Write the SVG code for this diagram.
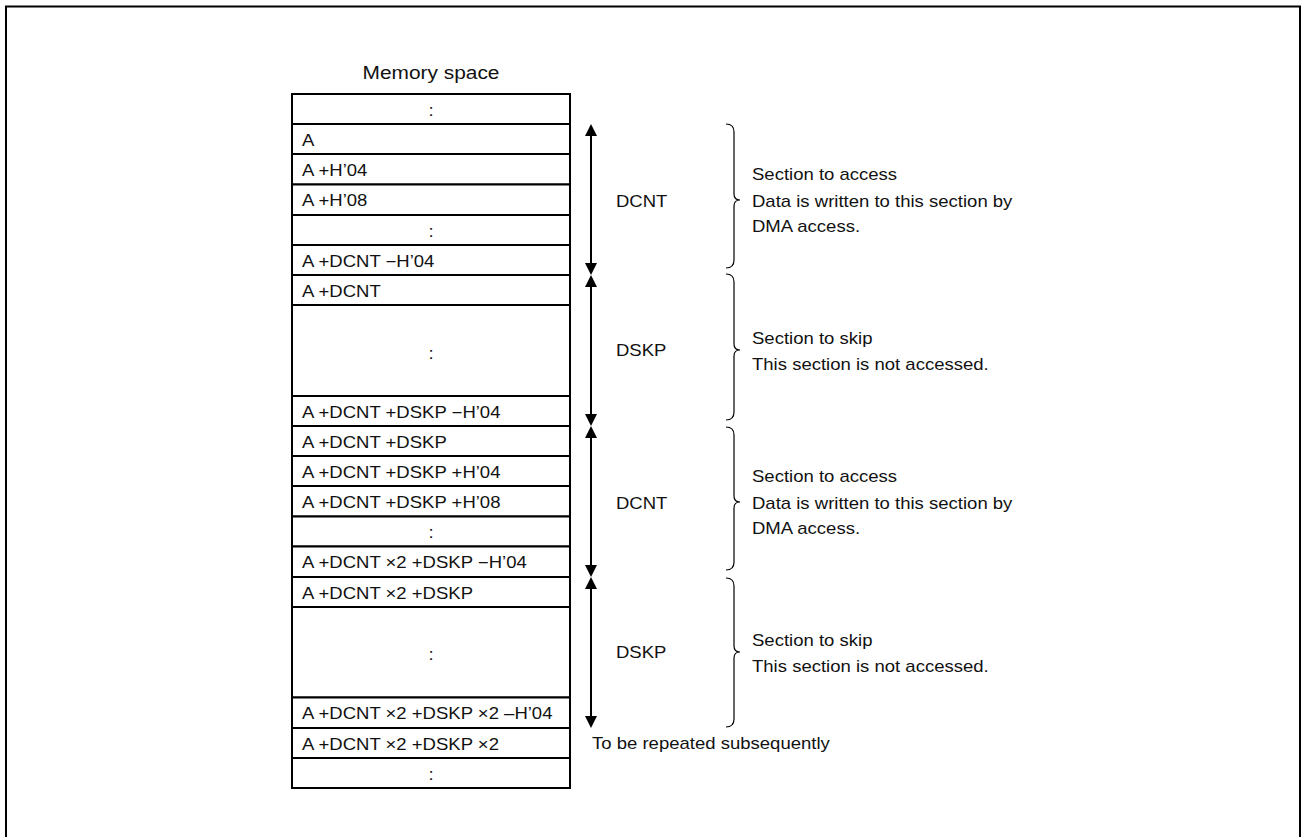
<svg xmlns="http://www.w3.org/2000/svg" width="1301" height="837" viewBox="0 0 1301 837">
<style>
.frame{fill:none;stroke:#000;stroke-width:2}
.cell{fill:#fff;stroke:#000;stroke-width:2}
.t{font-family:"Liberation Sans",Arial,Helvetica,sans-serif;font-size:16.4px;fill:#111}
.title{font-family:"Liberation Sans",Arial,Helvetica,sans-serif;font-size:18.5px;fill:#111}
.m{text-anchor:middle}
.arr{stroke:#000;stroke-width:2;fill:none;marker-start:url(#ah);marker-end:url(#ah)}
.brace{fill:none;stroke:#000;stroke-width:1.2}
</style>
<defs>
<marker id="ah" viewBox="0 0 12 12" markerWidth="12" markerHeight="12" markerUnits="userSpaceOnUse" refX="2" refY="6" orient="auto-start-reverse">
<path d="M0,0 L12,6 L0,12 z" fill="#000"/>
</marker>
</defs>
<rect width="1301" height="837" fill="#fff"/>
<rect class="frame" x="6" y="6.5" width="1294" height="860"/>

<text class="title m" transform="translate(431,79) scale(1.13,1)">Memory space</text>

<g id="memory-table">
<g id="row-0"><rect class="cell" x="292" y="94" width="278" height="30"/><text class="t m" transform="translate(431,115.5) scale(1.13,1)">:</text></g>
<g id="row-1"><rect class="cell" x="292" y="124" width="278" height="30"/><text class="t" transform="translate(302,145.5) scale(1.13,1)">A</text></g>
<g id="row-2"><rect class="cell" x="292" y="154" width="278" height="30.5"/><text class="t" transform="translate(302,175.5) scale(1.13,1)">A +H’04</text></g>
<g id="row-3"><rect class="cell" x="292" y="184.5" width="278" height="30.5"/><text class="t" transform="translate(302,206) scale(1.13,1)">A +H’08</text></g>
<g id="row-4"><rect class="cell" x="292" y="215" width="278" height="30"/><text class="t m" transform="translate(431,236.5) scale(1.13,1)">:</text></g>
<g id="row-5"><rect class="cell" x="292" y="245" width="278" height="30"/><text class="t" transform="translate(302,266.5) scale(1.13,1)">A +DCNT −H’04</text></g>
<g id="row-6"><rect class="cell" x="292" y="275" width="278" height="30"/><text class="t" transform="translate(302,296.5) scale(1.13,1)">A +DCNT</text></g>
<g id="row-7"><rect class="cell" x="292" y="305" width="278" height="91"/><text class="t m" transform="translate(431,358.5) scale(1.13,1)">:</text></g>
<g id="row-8"><rect class="cell" x="292" y="396" width="278" height="30"/><text class="t" transform="translate(302,417.5) scale(1.13,1)">A +DCNT +DSKP −H’04</text></g>
<g id="row-9"><rect class="cell" x="292" y="426" width="278" height="30"/><text class="t" transform="translate(302,447.5) scale(1.13,1)">A +DCNT +DSKP</text></g>
<g id="row-10"><rect class="cell" x="292" y="456" width="278" height="30"/><text class="t" transform="translate(302,477.5) scale(1.13,1)">A +DCNT +DSKP +H’04</text></g>
<g id="row-11"><rect class="cell" x="292" y="486" width="278" height="30.5"/><text class="t" transform="translate(302,507.5) scale(1.13,1)">A +DCNT +DSKP +H’08</text></g>
<g id="row-12"><rect class="cell" x="292" y="516.5" width="278" height="30"/><text class="t m" transform="translate(431,538) scale(1.13,1)">:</text></g>
<g id="row-13"><rect class="cell" x="292" y="546.5" width="278" height="30.5"/><text class="t" transform="translate(302,568) scale(1.13,1)">A +DCNT ×2 +DSKP −H’04</text></g>
<g id="row-14"><rect class="cell" x="292" y="577" width="278" height="30"/><text class="t" transform="translate(302,598.5) scale(1.13,1)">A +DCNT ×2 +DSKP</text></g>
<g id="row-15"><rect class="cell" x="292" y="607" width="278" height="90.5"/><text class="t m" transform="translate(431,660) scale(1.13,1)">:</text></g>
<g id="row-16"><rect class="cell" x="292" y="697.5" width="278" height="30.5"/><text class="t" transform="translate(302,719) scale(1.13,1)">A +DCNT ×2 +DSKP ×2 –H’04</text></g>
<g id="row-17"><rect class="cell" x="292" y="728" width="278" height="30"/><text class="t" transform="translate(302,749.5) scale(1.13,1)">A +DCNT ×2 +DSKP ×2</text></g>
<g id="row-18"><rect class="cell" x="292" y="758" width="278" height="30"/><text class="t m" transform="translate(431,779.5) scale(1.13,1)">:</text></g>
</g>

<g id="connectors">
<line class="arr" x1="591" y1="134" x2="591" y2="265"/>
<line class="arr" x1="591" y1="285" x2="591" y2="416"/>
<line class="arr" x1="591" y1="436" x2="591" y2="567"/>
<line class="arr" x1="591" y1="587" x2="591" y2="718"/>
</g>

<g id="braces">
<path class="brace" d="M726,124 Q734,124 734,132 L734,194 Q734,200 740,200 Q734,200 734,206 L734,260 Q734,268 726,268"/>
<path class="brace" d="M726,274 Q734,274 734,282 L734,344 Q734,350 740,350 Q734,350 734,356 L734,412 Q734,420 726,420"/>
<path class="brace" d="M726,427 Q734,427 734,435 L734,496 Q734,502 740,502 Q734,502 734,508 L734,562 Q734,570 726,570"/>
<path class="brace" d="M726,578 Q734,578 734,586 L734,646 Q734,652 740,652 Q734,652 734,658 L734,719 Q734,727 726,727"/>
</g>

<g id="label-dcnt-1"><text class="t" transform="translate(616,206.5) scale(1.13,1)">DCNT</text></g>
<g id="label-dskp-1"><text class="t" transform="translate(616,356) scale(1.13,1)">DSKP</text></g>
<g id="label-dcnt-2"><text class="t" transform="translate(616,508.5) scale(1.13,1)">DCNT</text></g>
<g id="label-dskp-2"><text class="t" transform="translate(616,658) scale(1.13,1)">DSKP</text></g>

<g id="note-access-1">
<text class="t" transform="translate(752,180) scale(1.13,1)">Section to access</text>
<text class="t" transform="translate(752,206.5) scale(1.13,1)">Data is written to this section by</text>
<text class="t" transform="translate(752,232) scale(1.13,1)">DMA access.</text>
</g>
<g id="note-skip-1">
<text class="t" transform="translate(752,344) scale(1.13,1)">Section to skip</text>
<text class="t" transform="translate(752,370) scale(1.13,1)">This section is not accessed.</text>
</g>
<g id="note-access-2">
<text class="t" transform="translate(752,482) scale(1.13,1)">Section to access</text>
<text class="t" transform="translate(752,508.5) scale(1.13,1)">Data is written to this section by</text>
<text class="t" transform="translate(752,534) scale(1.13,1)">DMA access.</text>
</g>
<g id="note-skip-2">
<text class="t" transform="translate(752,645.5) scale(1.13,1)">Section to skip</text>
<text class="t" transform="translate(752,671.5) scale(1.13,1)">This section is not accessed.</text>
</g>
<g id="note-repeat">
<text class="t" transform="translate(592,748.5) scale(1.13,1)">To be repeated subsequently</text>
</g>
</svg>
